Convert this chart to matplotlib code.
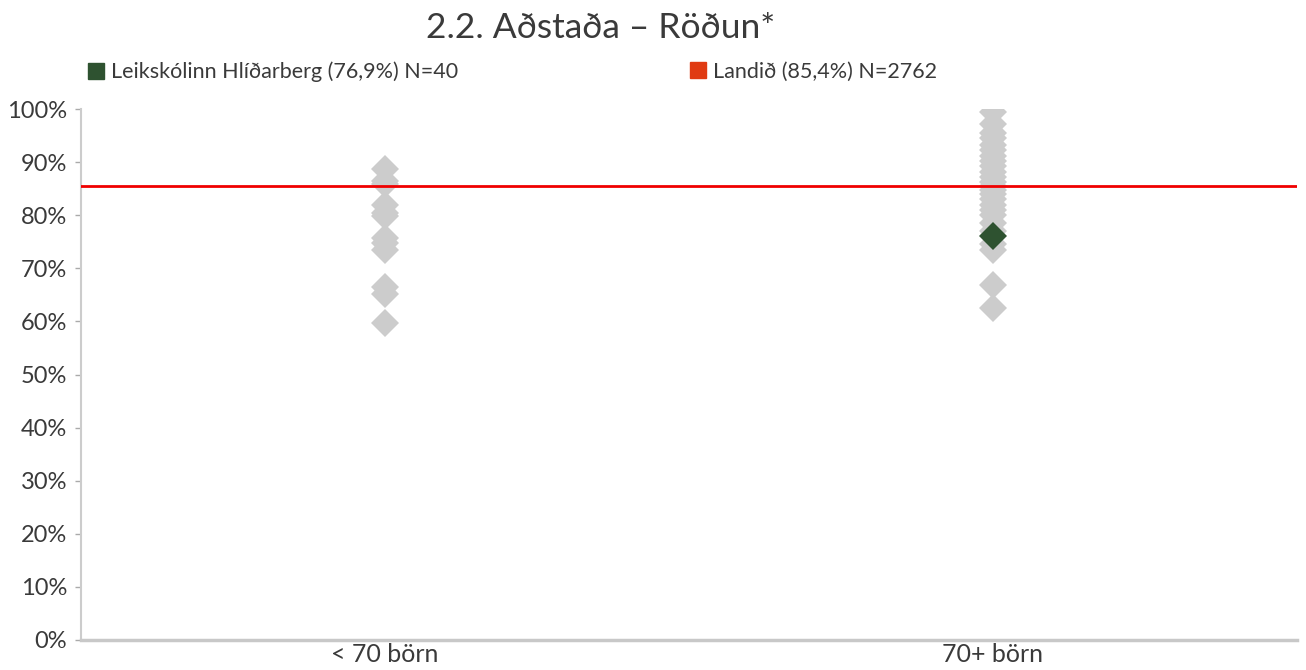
import numpy as np
import matplotlib
matplotlib.use("Agg")
from matplotlib import pyplot as plt
from matplotlib.lines import Line2D

plt.rcParams['font.family'] = ['Lato', 'DejaVu Sans']

title = "2.2. Aðstaða – Röðun*"
categories = ["< 70 börn", "70+ börn"]

# other schools, per group (share, 0-1)
small_vals = [0.887, 0.865, 0.858, 0.820, 0.805, 0.798, 0.758, 0.748, 0.734, 0.664, 0.652, 0.597]
large_vals = [0.995, 0.972, 0.955, 0.945, 0.932, 0.922, 0.912, 0.902, 0.892, 0.882, 0.872,
              0.862, 0.855, 0.848, 0.840, 0.830, 0.820, 0.810, 0.800, 0.785, 0.770, 0.745,
              0.734, 0.668, 0.625]

school_name = "Leikskólinn Hlíðarberg (76,9%) N=40"
school_cat = 1
school_val = 0.76
country_name = "Landið (85,4%) N=2762"
country_val = 0.855

gray = "#CCCCCC"
green = "#2E5230"
red_line = "#F00000"
red_legend = "#E03A12"
text_col = "#3A3A3A"

fig = plt.figure(figsize=(13.06, 6.70), dpi=100)
ax = fig.add_axes([81 / 1306, 30 / 670, 1216 / 1306, 531 / 670])

ax.plot(np.full(len(small_vals), 0), small_vals, linestyle="none", marker="D",
        markersize=14.5, color=gray, markeredgewidth=0, zorder=2)
ax.plot(np.full(len(large_vals), 1), large_vals, linestyle="none", marker="D",
        markersize=14.5, color=gray, markeredgewidth=0, zorder=2)
ax.axhline(country_val, color=red_line, linewidth=2, zorder=3)
ax.plot([school_cat], [school_val], linestyle="none", marker="D", markersize=14.5,
        color=green, markeredgewidth=0, zorder=4)

ax.set_xlim(-0.5, 1.5)
ax.set_ylim(0, 1.0)
ax.set_yticks(np.arange(0, 1.01, 0.1))
ax.set_yticklabels([f"{int(round(v * 100))}%" for v in np.arange(0, 1.01, 0.1)])
ax.set_xticks([0, 1])
ax.set_xticklabels(categories)
ax.tick_params(axis="y", length=4, width=1, color="#AAAAAA", labelsize=17,
               labelcolor=text_col, pad=6)
ax.tick_params(axis="x", length=0, labelsize=18, labelcolor=text_col, pad=2)

for s in ["top", "right"]:
    ax.spines[s].set_visible(False)
ax.spines["left"].set_color("#CCCCCC")
ax.spines["left"].set_linewidth(1.5)
ax.spines["bottom"].set_color("#C8C8C8")
ax.spines["bottom"].set_linewidth(2.5)

fig.text(601 / 1306, 1 - 28 / 670, title, ha="center", va="center",
         fontsize=25.5, color=text_col)

h1 = Line2D([], [], linestyle="none", marker="s", markersize=11, color=green)
h2 = Line2D([], [], linestyle="none", marker="s", markersize=11, color=red_legend)
fig.legend([h1], [school_name], loc="center left", bbox_to_anchor=(86 / 1306, 1 - 72 / 670),
           frameon=False, fontsize=15.5, handletextpad=0.25, handlelength=0.9,
           borderaxespad=0, borderpad=0, labelcolor=text_col)
fig.legend([h2], [country_name], loc="center left", bbox_to_anchor=(688 / 1306, 1 - 72 / 670),
           frameon=False, fontsize=15.5, handletextpad=0.25, handlelength=0.9,
           borderaxespad=0, borderpad=0, labelcolor=text_col)

fig.savefig("out.png", dpi=100)
